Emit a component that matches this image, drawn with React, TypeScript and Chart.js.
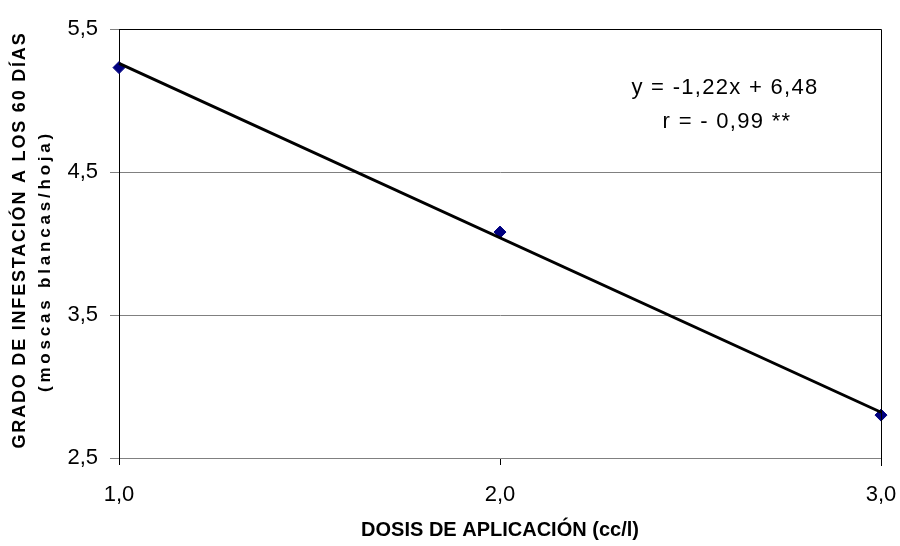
import React, { useEffect, useRef } from "react";
import { Chart, registerables } from "chart.js";

Chart.register(...registerables);

// Dose applied (cc/l) and whitefly count per leaf at 60 days
const doses = [1, 2, 3];
const infestation = [5.23, 4.08, 2.8];

// Fitted regression
const slope = -1.22;
const intercept = 6.48;

const xTicks = [1, 2, 3];
const yTicks = [2.5, 3.5, 4.5, 5.5];

const equationLines = ["y = -1,22x + 6,48", "r = - 0,99 **"];
const yTitleLines = ["GRADO DE INFESTACIÓN A LOS 60 DÍAS", "(moscas blancas/hoja)"];
const xTitle = "DOSIS DE APLICACIÓN (cc/l)";

const FONT = "'Liberation Sans', Arial, sans-serif";
const comma = (v: number) => v.toFixed(1).replace(".", ",");

const fitLine = [doses[0], doses[doses.length - 1]].map((x) => ({
  x,
  y: slope * x + intercept,
}));

const textPlugin = {
  id: "chartText",
  afterDraw(chart: any) {
    const { ctx, chartArea } = chart;
    ctx.save();
    ctx.fillStyle = "#000";
    ctx.textAlign = "center";
    ctx.textBaseline = "middle";

    // Plot frame: top and right edges
    ctx.strokeStyle = "#000";
    ctx.lineWidth = 1;
    ctx.beginPath();
    ctx.moveTo(chartArea.left, chartArea.top + 0.5);
    ctx.lineTo(chartArea.right + 0.5, chartArea.top + 0.5);
    ctx.lineTo(chartArea.right + 0.5, chartArea.bottom + 8);
    ctx.stroke();

    // Regression equation
    ctx.font = `22px ${FONT}`;
    (ctx as any).letterSpacing = "1.3px";
    ctx.fillText(equationLines[0], 725, 88);
    ctx.fillText(equationLines[1], 727, 122);

    // Axis titles
    (ctx as any).letterSpacing = "0px";
    ctx.font = `bold 20px ${FONT}`;
    ctx.fillText(xTitle, (chartArea.left + chartArea.right) / 2, 530);

    ctx.save();
    ctx.translate(20, 240);
    ctx.rotate(-Math.PI / 2);
    (ctx as any).letterSpacing = "1.8px";
    ctx.font = `bold 18px ${FONT}`;
    ctx.fillText(yTitleLines[0], 0, 0);
    ctx.restore();

    ctx.save();
    ctx.translate(45, 261);
    ctx.rotate(-Math.PI / 2);
    (ctx as any).letterSpacing = "3.8px";
    ctx.font = `bold 17px ${FONT}`;
    ctx.fillText(yTitleLines[1], 0, 0);
    ctx.restore();

    (ctx as any).letterSpacing = "0px";
    ctx.restore();
  },
};

export default function App() {
  const canvasRef = useRef<HTMLCanvasElement | null>(null);

  useEffect(() => {
    if (!canvasRef.current) return;
    const chart = new Chart(canvasRef.current, {
      type: "scatter",
      data: {
        datasets: [
          {
            type: "line",
            data: fitLine,
            borderColor: "#000",
            borderWidth: 3,
            pointRadius: 0,
            clip: false,
            order: 0,
          },
          {
            type: "scatter",
            data: doses.map((x, i) => ({ x, y: infestation[i] })),
            pointStyle: "rectRot",
            pointRadius: 6,
            backgroundColor: "#000080",
            borderColor: "#000080",
            borderWidth: 1,
            clip: false,
            order: 1,
          },
        ],
      },
      options: {
        responsive: false,
        animation: false,
        layout: { padding: { top: 29, right: 19, left: 0, bottom: 0 } },
        plugins: {
          legend: { display: false },
          tooltip: { enabled: false },
        },
        scales: {
          x: {
            type: "linear",
            min: 1,
            max: 3,
            afterFit: (s: any) => {
              s.height = 88;
              s.paddingLeft = 0;
              s.paddingRight = 0;
            },
            afterBuildTicks: (s: any) => {
              s.ticks = xTicks.map((value) => ({ value }));
            },
            ticks: {
              color: "#000",
              font: { family: FONT, size: 22 },
              padding: 17,
              callback: (v: any) => comma(Number(v)),
              maxRotation: 0,
            },
            grid: {
              drawOnChartArea: false,
              tickLength: 7,
              color: "#000",
            },
            border: { color: "#808080", width: 1 },
          },
          y: {
            type: "linear",
            min: 2.5,
            max: 5.5,
            afterFit: (s: any) => {
              s.width = 119;
              s.paddingTop = 0;
              s.paddingBottom = 0;
            },
            afterBuildTicks: (s: any) => {
              s.ticks = yTicks.map((value) => ({ value }));
            },
            ticks: {
              color: "#000",
              font: { family: FONT, size: 22 },
              padding: 12,
              callback: (v: any) => comma(Number(v)),
            },
            grid: {
              color: "#808080",
              tickLength: 9,
            },
            border: { color: "#000", width: 1 },
          },
        },
      },
      plugins: [textPlugin],
    });
    return () => chart.destroy();
  }, []);

  return (
    <div style={{ position: "absolute", left: 0, top: 0, width: 900, height: 546, background: "#fff" }}>
      <canvas ref={canvasRef} width={900} height={546} style={{ display: "block" }} />
    </div>
  );
}
